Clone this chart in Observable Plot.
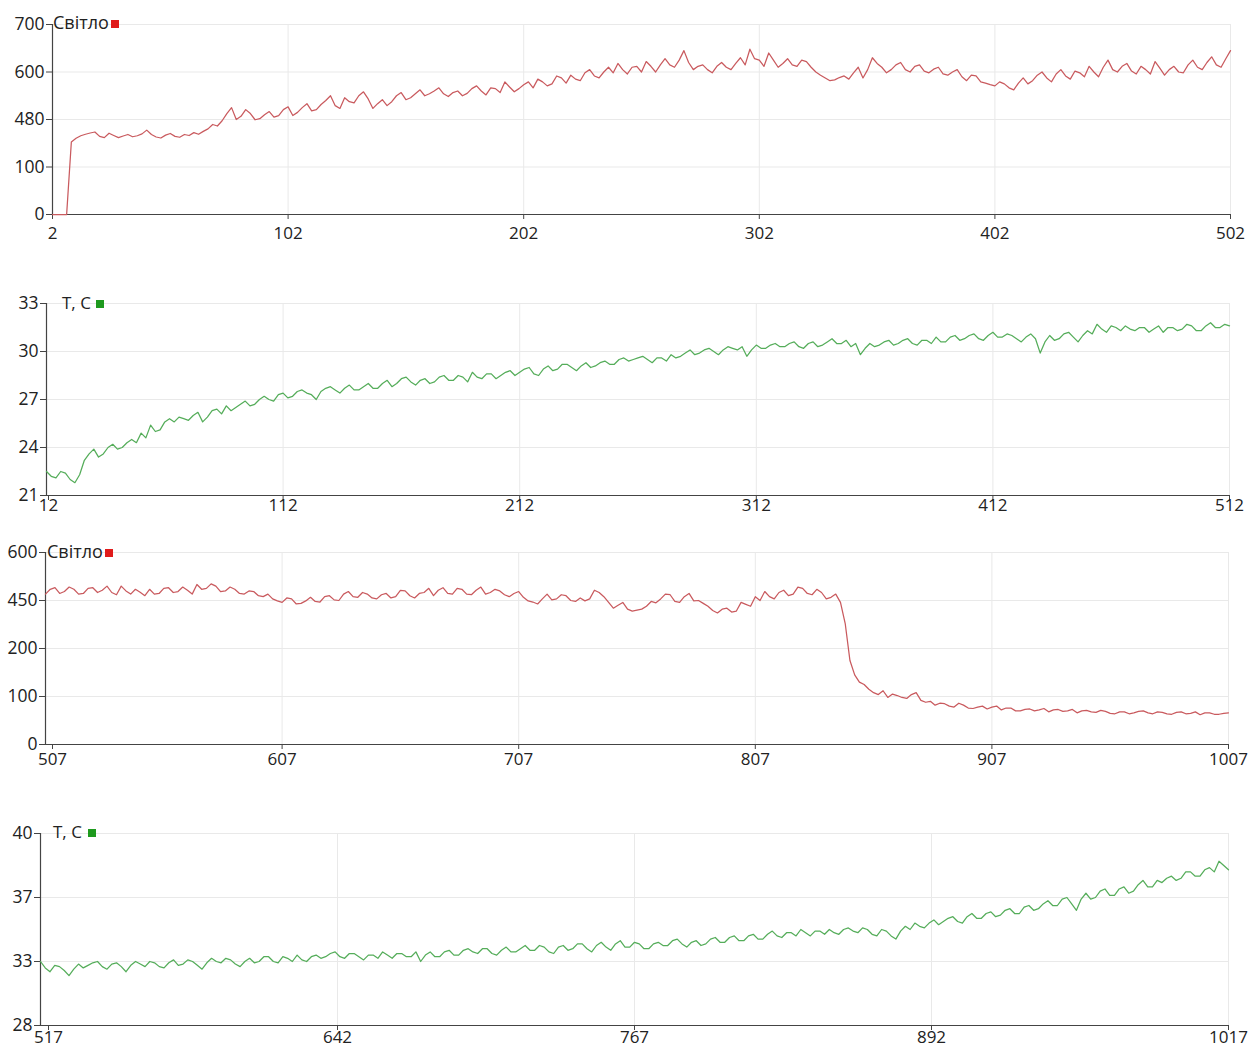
<!DOCTYPE html>
<html><head><meta charset="utf-8">
<script src="https://cdn.jsdelivr.net/npm/d3@7"></script>
<script src="https://cdn.jsdelivr.net/npm/@observablehq/plot@0.6"></script>
<style>
body{margin:0;background:#fff;font-family:"Open Sans",sans-serif;}
#wrap{position:relative;width:1248px;height:1045px;overflow:hidden;background:#fff;}
.panel{position:absolute;left:0;}
.lbl{position:absolute;color:#222;white-space:nowrap;line-height:18px;font-family:"Open Sans",sans-serif;}
.sq{display:inline-block;width:8px;height:8px;vertical-align:1px;}
</style></head><body><div id="wrap"></div>
<script>
// ---- Data ----
const light1Start = 2, temp1Start = 12, light2Start = 507, temp2Start = 517, sampleStep = 2;

const light1Values = [0,0,0,0,300,330,350,362,372,380, 345,335,370,352,335,348,360,342,350,365, 395,360,340,332,355,368,345,338,360,352, 375,362,385,405,440,428,470,495,510,480, 488,505,495,478,482,492,500,486,490,505, 512,490,498,510,520,502,505,518,528,540, 515,508,535,525,522,540,550,532,508,520, 530,515,525,540,548,530,535,545,555,540, 545,552,560,545,538,548,552,540,546,558, 565,552,542,560,558,548,575,562,550,558, 568,575,560,582,575,565,570,590,585,572, 592,582,578,598,605,590,585,600,610,598, 618,605,595,610,612,600,622,612,600,615, 628,615,610,625,645,620,605,612,615,605, 598,612,620,610,605,618,630,615,648,628, 625,612,640,625,610,618,628,615,612,625, 622,610,600,592,585,578,580,586,590,582, 598,610,585,605,630,618,610,598,605,615, 620,605,600,612,615,602,598,606,610,595, 592,600,605,588,578,592,590,575,572,568, 565,575,570,560,555,572,585,570,578,592, 600,585,575,595,605,590,582,602,598,588, 612,600,588,610,625,605,600,612,618,602, 595,612,605,595,622,608,592,605,612,600, 598,615,625,610,605,620,632,615,610,628, 645];

const temp1Values = [22.5,22.2,22.1,22.5,22.4,22.0,21.8,22.3,23.2,23.6, 23.9,23.4,23.6,24.0,24.2,23.9,24.0,24.3,24.5,24.3, 24.9,24.6,25.4,25.0,25.1,25.6,25.8,25.6,25.9,25.8, 25.7,26.0,26.2,25.6,25.9,26.3,26.4,26.1,26.6,26.3, 26.5,26.7,26.9,26.6,26.7,27.0,27.2,27.0,26.9,27.3, 27.4,27.1,27.2,27.5,27.6,27.4,27.3,27.0,27.5,27.7, 27.8,27.6,27.4,27.7,27.9,27.6,27.6,27.8,28.0,27.7, 27.7,28.0,28.2,27.8,28.0,28.3,28.4,28.1,27.9,28.2, 28.3,28.0,28.1,28.4,28.5,28.2,28.2,28.5,28.4,28.1, 28.7,28.4,28.3,28.6,28.6,28.3,28.5,28.7,28.8,28.5, 28.7,28.9,29.0,28.6,28.5,28.9,29.1,28.8,28.9,29.2, 29.2,29.0,28.8,29.1,29.3,29.0,29.1,29.3,29.4,29.2, 29.2,29.5,29.6,29.4,29.5,29.6,29.7,29.5,29.3,29.6, 29.6,29.4,29.8,29.6,29.7,29.9,30.1,29.8,29.9,30.1, 30.2,30.0,29.8,30.1,30.3,30.2,30.1,30.3,29.7,30.1, 30.4,30.2,30.2,30.4,30.5,30.3,30.3,30.5,30.6,30.3, 30.2,30.5,30.6,30.3,30.4,30.6,30.8,30.5,30.5,30.7, 30.3,30.5,29.8,30.2,30.5,30.3,30.4,30.6,30.7,30.4, 30.5,30.7,30.8,30.5,30.4,30.7,30.7,30.5,30.9,30.6, 30.6,30.9,31.0,30.7,30.8,31.0,31.1,30.8,30.7,31.0, 31.2,30.9,30.9,31.1,31.0,30.8,30.6,30.9,31.1,30.8, 29.9,30.6,31.0,30.7,30.8,31.1,31.2,30.9,30.6,31.0, 31.3,31.1,31.7,31.4,31.2,31.6,31.5,31.3,31.6,31.4, 31.3,31.5,31.5,31.2,31.4,31.6,31.2,31.5,31.5,31.3, 31.4,31.7,31.6,31.3,31.3,31.6,31.8,31.5,31.5,31.7, 31.6];

const light2Values = [470,485,490,472,478,492,485,470,472,488, 490,475,482,495,475,468,495,480,470,485, 476,465,485,470,472,488,490,475,478,492, 482,470,500,485,488,502,495,478,480,492, 485,472,470,480,478,465,462,470,455,448, 440,458,455,432,435,448,460,445,442,462, 465,452,450,470,478,462,460,475,470,458, 455,468,472,458,462,482,480,465,458,472, 475,488,465,482,490,472,470,488,485,470, 468,482,492,470,475,485,480,468,462,472, 478,460,448,442,432,455,470,452,455,468, 465,450,445,458,448,455,482,475,462,440, 410,425,440,405,395,400,405,420,445,438, 455,470,468,445,440,462,472,448,450,435, 420,398,385,405,410,390,395,440,430,420, 462,450,478,462,455,475,482,465,470,492, 488,472,468,485,475,455,460,470,440,330, 175,145,130,125,115,108,104,112,98,105, 102,98,96,104,108,92,88,90,82,86, 85,80,78,86,82,76,75,78,80,74, 78,80,72,76,76,70,70,73,74,70, 72,75,68,72,73,69,70,73,66,70, 71,68,67,71,69,65,64,68,68,64, 66,69,70,66,64,68,67,64,63,67, 68,64,65,68,62,66,66,63,63,65, 66];

const temp2Values = [33.0,32.5,32.2,32.7,32.6,32.3,31.9,32.4,32.8,32.5, 32.7,32.9,33.0,32.6,32.4,32.8,32.9,32.6,32.2,32.7, 33.0,32.8,32.6,33.0,32.9,32.6,32.5,32.9,33.1,32.7, 32.8,33.1,33.0,32.7,32.4,32.9,33.2,33.0,32.9,33.2, 33.1,32.8,32.6,33.0,33.2,32.9,33.0,33.3,33.3,33.0, 32.9,33.3,33.2,33.0,33.4,33.1,33.0,33.3,33.4,33.2, 33.3,33.5,33.6,33.3,33.2,33.5,33.5,33.3,33.1,33.4, 33.4,33.2,33.6,33.4,33.2,33.5,33.5,33.3,33.3,33.6, 33.0,33.4,33.6,33.3,33.3,33.6,33.7,33.4,33.4,33.7, 33.8,33.6,33.5,33.8,33.8,33.5,33.4,33.7,33.9,33.6, 33.6,33.8,34.0,33.7,33.7,34.0,33.9,33.6,33.5,33.9, 34.0,33.7,33.8,34.1,34.1,33.8,33.6,34.0,34.2,33.9, 33.7,34.1,34.3,33.9,33.9,34.2,34.1,33.8,33.8,34.1, 34.2,34.0,34.0,34.3,34.4,34.1,33.9,34.2,34.3,34.0, 34.1,34.4,34.5,34.2,34.2,34.5,34.6,34.3,34.3,34.6, 34.7,34.4,34.4,34.7,34.9,34.6,34.5,34.8,34.8,34.6, 35.0,34.8,34.6,34.9,34.9,34.7,35.0,34.8,34.7,35.0, 35.1,34.9,34.8,35.1,35.0,34.7,34.6,35.0,34.9,34.6, 34.4,34.9,35.2,35.0,35.4,35.2,35.1,35.4,35.6,35.3, 35.5,35.7,35.8,35.5,35.4,35.8,36.0,35.7,35.7,36.0, 36.1,35.8,35.9,36.2,36.3,36.0,36.0,36.4,36.5,36.2, 36.3,36.6,36.8,36.5,36.5,36.9,37.0,36.6,36.2,36.9, 37.2,36.9,37.0,37.3,37.4,37.1,37.1,37.4,37.5,37.2, 37.3,37.6,37.8,37.5,37.5,37.8,37.7,37.9,38.0,37.8, 37.9,38.2,38.2,38.0,38.0,38.3,38.4,38.2,38.7,38.5, 38.3];

const light1XTicks = [2,102,202,302,402,502];
const light1YTicks = [0,100,480,600,700];
const temp1XTicks = [12,112,212,312,412,512];
const temp1YTicks = [21,24,27,30,33];
const light2XTicks = [507,607,707,807,907,1007];
const light2YTicks = [0,100,200,450,600];
const temp2XTicks = [517,642,767,892,1017];
const temp2YTicks = [28,33,37,40];

const lightLabel = "Світло", tempLabel = "T, C";
const lightColor = "#c95a5e", tempColor = "#55ad5a";
const lightKey = "#e01b1b", tempKey = "#1e9a1e";

// ---- Drawing ----
const wrap = document.getElementById("wrap");

function panel(cfg) {
  const xs = cfg.values.map((_, i) => cfg.start + i * sampleStep);
  const axisXOpts = {tickSize: 5, tickPadding: cfg.xPad, fontSize: 17, stroke: "#444", fill: "#222", label: null, tickFormat: d => String(d)};
  const chart = Plot.plot({
    width: 1248,
    height: cfg.height,
    marginTop: cfg.mt, marginBottom: cfg.mb, marginLeft: cfg.ml, marginRight: cfg.mr,
    style: {fontFamily: "'Open Sans', sans-serif", color: "#222", background: "transparent"},
    x: {domain: [cfg.xTicks[0], cfg.xTicks[cfg.xTicks.length - 1]], type: "linear"},
    y: {domain: cfg.yTicks, type: "linear"},
    marks: [
      Plot.gridX(cfg.xTicks, {stroke: "#e9e9e9", strokeOpacity: 1}),
      Plot.gridY(cfg.yTicks, {stroke: "#e9e9e9", strokeOpacity: 1}),
      Plot.axisY(cfg.yTicks, {tickSize: 6, tickPadding: 2, fontSize: 17.5, stroke: "#444", fill: "#222", label: null, tickFormat: d => String(d)}),
      Plot.axisX(cfg.xTicks.slice(0, 1), {...axisXOpts, dx: cfg.firstDx}),
      Plot.axisX(cfg.xTicks.slice(1), axisXOpts),
      Plot.ruleX([cfg.xTicks[0]], {stroke: "#444", strokeWidth: 1.2}),
      Plot.ruleY([cfg.yTicks[0]], {stroke: "#444", strokeWidth: 1.2}),
      Plot.line(cfg.values, {x: (d, i) => xs[i], y: d => d, stroke: cfg.color, strokeWidth: 1.25})
    ]
  });
  chart.classList.add("panel");
  chart.style.top = cfg.top + "px";
  wrap.appendChild(chart);

  const lab = document.createElement("div");
  lab.className = "lbl";
  lab.style.left = cfg.labX + "px";
  lab.style.top = cfg.labY + "px";
  lab.style.fontSize = cfg.labSize + "px";
  lab.innerHTML = cfg.label + '<span class="sq" style="background:' + cfg.key + ';margin-left:' + cfg.sqGap + 'px"></span>';
  wrap.appendChild(lab);
}

panel({values: light1Values, start: light1Start, xTicks: light1XTicks, yTicks: light1YTicks, color: lightColor,
  top: 0, height: 250, mt: 24, mb: 36, ml: 52, mr: 18, xPad: 7, firstDx: 0,
  label: lightLabel, key: lightKey, labX: 53, labY: 13, labSize: 18, sqGap: 2});
panel({values: temp1Values, start: temp1Start, xTicks: temp1XTicks, yTicks: temp1YTicks, color: tempColor,
  top: 275, height: 242, mt: 28, mb: 22, ml: 46, mr: 19, xPad: -2, firstDx: 2,
  label: tempLabel, key: tempKey, labX: 62, labY: 294, labSize: 17, sqGap: 5});
panel({values: light2Values, start: light2Start, xTicks: light2XTicks, yTicks: light2YTicks, color: lightColor,
  top: 520, height: 254, mt: 32, mb: 30, ml: 45, mr: 20, xPad: 3, firstDx: 7,
  label: lightLabel, key: lightKey, labX: 47, labY: 542, labSize: 18, sqGap: 2});
panel({values: temp2Values, start: temp2Start, xTicks: temp2XTicks, yTicks: temp2YTicks, color: tempColor,
  top: 800, height: 245, mt: 33, mb: 20, ml: 40, mr: 20, xPad: 0, firstDx: 8,
  label: tempLabel, key: tempKey, labX: 53, labY: 823, labSize: 17, sqGap: 6});
</script></body></html>
